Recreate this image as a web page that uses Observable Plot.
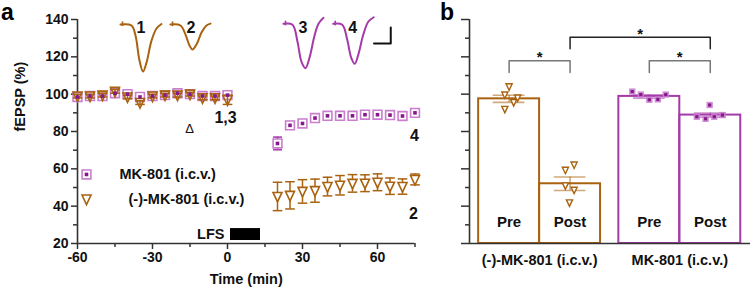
<!DOCTYPE html>
<html><head><meta charset="utf-8">
<script src="https://cdn.jsdelivr.net/npm/d3@7"></script>
<script src="https://cdn.jsdelivr.net/npm/@observablehq/plot@0.6"></script>
<style>
body{margin:0;background:#fff;}
#wrap{position:relative;width:750px;height:292px;display:flex;font-family:"Liberation Sans",Arial,sans-serif;font-weight:bold;overflow:hidden;}
.lbl{position:absolute;font-size:23px;font-weight:bold;line-height:25px;color:#000;}
</style></head><body>
<div id="wrap"><div id="pa"></div><div id="pb"></div>
<div class="lbl" style="left:1px;top:0px">a</div>
<div class="lbl" style="left:440px;top:0px">b</div>
</div>
<script>
// ---------- Panel a data ----------
const preTimes  = [-60,-55,-50,-45,-40,-35,-30,-25,-20,-15,-10,-5,0];
const postTimes = [20,25,30,35,40,45,50,55,60,65,70,75];
const mkPre      = [98.5,99,99,100.5,100,98.5,99,99.5,100.5,100,99,99,99.5];
const mkPreSem   = [1,1,1,1,1,1,1,1,1,1,1,1,1];
const negPre     = [99,99,99.5,101.5,98.5,95.5,99,99.5,99.5,100,98,98,97];
const negPreSem  = [1,1,1,1,1,1,1,1,1,1,1,1,2.5];
const mkPost     = [73.6,83.3,84.3,87.2,88.4,88.4,88.4,89,89,88.8,88.3,90];
const mkPostSem  = [3.4,2,1.2,1,1,1,1,1,1,1,1,1];
const negPost    = [45.2,45.8,47.9,48.3,50.5,51.2,52.2,52.3,52.8,50.7,50.5,54.3];
const negPostSem = [7.6,7.3,6.3,6.2,5,5.2,4.7,4.5,4.5,4.4,4.1,2.9];
const seriesNames = ["MK-801 (i.c.v.)", "(-)-MK-801 (i.c.v.)"];
// schematic fEPSP traces (time, % units of the panel)
const trace1T = [-42.8,-38.4,-36.8,-35.2,-33.8,-32.4,-30.4,-28.4,-26.4];
const trace1V = [137.3,136.8,131.4,118,112.1,116.9,128.7,135.2,137.6];
const trace2T = [-22.8,-18.8,-16.8,-15.2,-14,-12.4,-10.4,-8.4,-6.8];
const trace2V = [137.3,136.8,131.9,126.1,123.9,126.6,133,136.8,137.8];
const trace3T = [22.4,26,28,29.6,31.2,32.8,34.8,36.4,38.4];
const trace3V = [137.7,137.2,128.1,117.3,113.9,119.5,131.3,137.7,140.9];
const trace4T = [42.3,45.9,47.9,49.5,50.9,52.3,54.3,56.3,58.5];
const trace4V = [137.7,137.2,129.1,119.5,116.3,121.1,131.8,138.8,141.2];
const lfsWindow = [1.2, 13.2];

// ---------- Panel b data ----------
const groups = ["(-)-MK-801 (i.c.v.)", "MK-801 (i.c.v.)"];
const conditions = ["Pre", "Post"];
const negMeans = [97.5, 52.0], negSems = [1.9, 3.6];
const mkMeans  = [98.8, 88.8], mkSems  = [0.9, 1.1];
const negPrePts  = [104.1, 99.7, 98.1, 95.6, 92.0];
const negPostPts = [62.2, 59.4, 51.0, 48.7, 41.9];
const mkPrePts   = [101.4, 99.8, 97.0, 97.2, 99.8];
const mkPostPts  = [94.2, 87.9, 86.8, 87.9, 88.8];
// horizontal scatter of the individual animals (bar-width units)
const negPreJit  = [0, -0.07, 0.14, 0.075, -0.07];
const negPostJit = [0.066, -0.077, -0.077, 0.066, -0.01];
const mkPreJit   = [-0.28, -0.14, 0, 0.14, 0.27];
const mkPostJit  = [-0.01, -0.22, -0.077, 0.066, 0.2];

// ---------- styles ----------
const BROWN = "#a9620f", PURPLE = "#a53aa9", PURPLE_LIGHT = "#c97fce", PURPLE_DARK = "#86198a";
const FONT = {fontFamily: '"Liberation Sans", Arial, sans-serif', fontSize: "14px", fontWeight: "bold", background: "white", overflow: "visible"};

const triDown = {draw(ctx, size) { const r = Math.sqrt(size / Math.PI);
  ctx.moveTo(-0.9*r, -0.8*r); ctx.lineTo(0.9*r, -0.8*r); ctx.lineTo(0, 1.1*r); ctx.closePath(); }};
const sq = {draw(ctx, size) { const r = Math.sqrt(size / Math.PI); ctx.rect(-r, -r, 2*r, 2*r); }};
const hline = {draw(ctx, size) { const r = Math.sqrt(size / Math.PI); ctx.moveTo(-r, 0); ctx.lineTo(r, 0); }};

const rows = (times, vals, sems) => times.map((t, i) => ({t, v: vals[i], lo: vals[i] - sems[i], hi: vals[i] + sems[i]}));
const mkPreRows = rows(preTimes, mkPre, mkPreSem), mkPostRows = rows(postTimes, mkPost, mkPostSem);
const negPreRows = rows(preTimes, negPre, negPreSem), negPostRows = rows(postTimes, negPost, negPostSem);
const mkAll = mkPreRows.concat(mkPostRows), negAll = negPreRows.concat(negPostRows);
const tr = (T, V) => T.map((t, i) => ({t, v: V[i]}));
const traces = [[trace1T, trace1V, BROWN, "1"], [trace2T, trace2V, BROWN, "2"], [trace3T, trace3V, PURPLE, "3"], [trace4T, trace4V, PURPLE, "4"]];

const errMarks = (data, color, capR) => [
  Plot.ruleX(data, {x: "t", y1: "lo", y2: "hi", stroke: color, strokeWidth: 1.5}),
  Plot.dot(data, {x: "t", y: "lo", symbol: hline, r: capR, stroke: color, strokeWidth: 1.5}),
  Plot.dot(data, {x: "t", y: "hi", symbol: hline, r: capR, stroke: color, strokeWidth: 1.5})
];

const pa = Plot.plot({
  width: 430, height: 292,
  marginLeft: 77, marginRight: 15.5, marginTop: 19, marginBottom: 49,
  x: {domain: [-60, 75]},
  y: {domain: [20, 140]},
  style: FONT,
  marks: [
    Plot.ruleY([20], {stroke: "#333", strokeWidth: 1.6}),
    Plot.ruleX([-60], {stroke: "#333", strokeWidth: 1.6}),
    Plot.axisX({ticks: [-60, -30, 0, 30, 60], tickSize: 6, tickPadding: 3, tickFormat: d => String(d), label: null, stroke: "#333", strokeWidth: 1.5, fill: "#111"}),
    Plot.axisX({ticks: [-45, -15, 15, 45, 75], tickSize: 4, tickFormat: () => "", label: null, stroke: "#333", strokeWidth: 1.5}),
    Plot.axisY({ticks: [20, 40, 60, 80, 100, 120, 140], tickSize: 6, tickPadding: 3, tickFormat: d => String(d), label: null, stroke: "#333", strokeWidth: 1.5, fill: "#111"}),
    Plot.axisY({ticks: [30, 50, 70, 90, 110, 130], tickSize: 4, tickFormat: () => "", label: null, stroke: "#333", strokeWidth: 1.5}),
    Plot.text(["fEPSP (%)"], {frameAnchor: "left", rotate: -90, dx: -57, fontSize: 14.5, fill: "#111"}),
    Plot.text(["Time (min)"], {frameAnchor: "bottom", dy: 40, fontSize: 14.5, fill: "#111"}),
    // schematic traces
    ...traces.map(([T, V, c]) => Plot.line(tr(T, V), {x: "t", y: "v", stroke: c, strokeWidth: 2, curve: "catmull-rom"})),
    ...traces.map(([T, V, c]) => Plot.ruleX([{t: T[0] + 0.8, lo: V[0] - 1.1, hi: V[0] + 1.4}], {x: "t", y1: "lo", y2: "hi", stroke: c, strokeWidth: 1.6})),
    ...traces.map(([T, V, c, lab]) => Plot.text([lab], {x: T[Math.floor(T.length/2) - 1] + 0.6, y: 135.4, fontSize: 16, fill: "#111"})),
    Plot.line([{t: 58.6, v: 127.2}, {t: 65.3, v: 127.2}, {t: 65.3, v: 135.7}], {x: "t", y: "v", stroke: "#111", strokeWidth: 2}),
    // data: MK-801 squares (outer) + error bars
    ...errMarks(mkAll, PURPLE, 4.5),
    Plot.dot(mkAll, {x: "t", y: "v", symbol: sq, r: 4.4, fill: "white", stroke: PURPLE_LIGHT, strokeWidth: 1.6}),
    // (-)-MK-801 triangles
    ...errMarks(negAll, BROWN, 4.8),
    Plot.dot(negPreRows, {x: "t", y: "v", symbol: triDown, r: 5, fill: "none", stroke: BROWN, strokeWidth: 1.6}),
    Plot.dot(negPostRows, {x: "t", y: "v", symbol: triDown, r: 5, fill: "white", stroke: BROWN, strokeWidth: 1.6}),
    Plot.dot(mkAll, {x: "t", y: "v", symbol: sq, r: 1.8, fill: PURPLE_DARK}),
    // legend
    Plot.dot([{t: -56.4, v: 57}], {x: "t", y: "v", symbol: sq, r: 4.4, fill: "white", stroke: PURPLE_LIGHT, strokeWidth: 1.6}),
    Plot.dot([{t: -56.4, v: 57}], {x: "t", y: "v", symbol: sq, r: 1.8, fill: PURPLE_DARK}),
    Plot.dot([{t: -56.4, v: 43.8}], {x: "t", y: "v", symbol: triDown, r: 5, fill: "white", stroke: BROWN, strokeWidth: 1.6}),
    Plot.text([seriesNames[0]], {x: -43.2, y: 57, textAnchor: "start", fontSize: 14.5, fill: "#111"}),
    Plot.text([seriesNames[1]], {x: -39.6, y: 43.8, textAnchor: "start", fontSize: 14.5, fill: "#111"}),
    // LFS
    Plot.rect([{a: lfsWindow[0], b: lfsWindow[1]}], {x1: "a", x2: "b", y1: 21.6, y2: 28, fill: "black"}),
    Plot.text(["LFS"], {x: -1.2, y: 24.8, textAnchor: "end", fontSize: 14.5, fill: "#111"}),
    // annotations
    Plot.text(["1,3"], {x: -0.8, y: 87.3, fontSize: 16, fill: "#111"}),
    Plot.text(["\u0394"], {x: -15.2, y: 81.6, fontSize: 13, fontWeight: "normal", fill: "#111"}),
    Plot.text(["4"], {x: 74.8, y: 77.9, fontSize: 16, fill: "#111"}),
    Plot.text(["2"], {x: 74.4, y: 36.1, fontSize: 16, fill: "#111"})
  ]
});
document.getElementById("pa").append(pa);

// ---------- Panel b ----------
const GAP = 0.3;
const slot = (g, c) => g * (conditions.length + GAP) + c;
const xDomB = [-0.15, 4.46];
const means = [negMeans, mkMeans], sems = [negSems, mkSems];
const colors = [BROWN, PURPLE];
const bars = groups.flatMap((grp, g) => conditions.map((cond, c) => ({
  grp, cond, x1: slot(g, c), x2: slot(g, c) + 1, xc: slot(g, c) + 0.5,
  mean: means[g][c], lo: means[g][c] - sems[g][c], hi: means[g][c] + sems[g][c], color: colors[g]
})));
const ptVals = [[negPrePts, negPostPts], [mkPrePts, mkPostPts]];
const ptJit = [[negPreJit, negPostJit], [mkPreJit, mkPostJit]];
const pts = groups.flatMap((grp, g) => conditions.flatMap((cond, c) =>
  ptVals[g][c].map((v, i) => ({g, x: slot(g, c) + 0.5 + ptJit[g][c][i], v}))));
const brackets = [
  {a: [0, 0], b: [0, 1], top: 117.9, leg: 111.6, color: "#777"},
  {a: [0, 1], b: [1, 1], top: 130.5, leg: 124.3, color: "#222"},
  {a: [1, 0], b: [1, 1], top: 117.9, leg: 111.6, color: "#777"}
];
const bracketPts = brackets.flatMap((br, k) => {
  const xa = slot(...br.a) + 0.5, xb = slot(...br.b) + 0.5;
  return [[xa, br.leg], [xa, br.top], [xb, br.top], [xb, br.leg]].map(([x, v]) => ({k, x, v, color: br.color}));
});
const capHalf = 0.26;

const pb = Plot.plot({
  width: 320, height: 292,
  marginLeft: 39, marginRight: 0, marginTop: 19, marginBottom: 49,
  x: {domain: xDomB, axis: null},
  y: {domain: [20, 140]},
  color: {type: "identity"},
  style: FONT,
  marks: [
    Plot.ruleX([xDomB[0]], {stroke: "#333", strokeWidth: 1.6}),
    Plot.axisY({ticks: [20, 40, 60, 80, 100, 120, 140], tickSize: 8, tickFormat: () => "", label: null, stroke: "#333", strokeWidth: 1.5}),
    Plot.axisY({ticks: [30, 50, 70, 90, 110, 130], tickSize: 4, tickFormat: () => "", label: null, stroke: "#333", strokeWidth: 1.5}),
    Plot.rect(bars, {x1: "x1", x2: "x2", y1: 20, y2: "mean", fill: "none", stroke: "color", strokeWidth: 2}),
    Plot.ruleY([20], {stroke: "#333", strokeWidth: 1.6}),
    Plot.ruleX(bars, {x: "xc", y1: "lo", y2: "hi", stroke: "color", strokeOpacity: 0.55, strokeWidth: 1.6}),
    Plot.ruleY(bars, {x1: d => d.xc - capHalf, x2: d => d.xc + capHalf, y: "lo", stroke: "color", strokeOpacity: 0.55, strokeWidth: 1.6}),
    Plot.ruleY(bars, {x1: d => d.xc - capHalf, x2: d => d.xc + capHalf, y: "hi", stroke: "color", strokeOpacity: 0.55, strokeWidth: 1.6}),
    Plot.dot(pts.filter(d => d.g === 0), {x: "x", y: "v", symbol: triDown, r: 3.4, fill: "white", stroke: BROWN, strokeWidth: 1.4}),
    Plot.dot(pts.filter(d => d.g === 1), {x: "x", y: "v", symbol: sq, r: 3.2, fill: PURPLE_LIGHT, fillOpacity: 0.85}),
    Plot.dot(pts.filter(d => d.g === 1), {x: "x", y: "v", symbol: sq, r: 1.6, fill: PURPLE_DARK}),
    Plot.line(bracketPts, {x: "x", y: "v", z: "k", stroke: "color", strokeWidth: 1.5}),
    Plot.text(brackets, {x: br => (slot(...br.a) + slot(...br.b)) / 2 + 0.5, y: "top", text: () => "*", dy: -3.5, fontSize: 15, fill: "#111"}),
    Plot.text(bars, {x: "xc", y: 31.2, text: "cond", fontSize: 15, fill: "#111"}),
    Plot.text(groups, {x: (d, g) => (slot(g, 0) + slot(g, 1) + 1) / 2, y: 20, dy: 17, text: d => d, fontSize: 14.5, fill: "#111"})
  ]
});
document.getElementById("pb").append(pb);
</script>
</body></html>
